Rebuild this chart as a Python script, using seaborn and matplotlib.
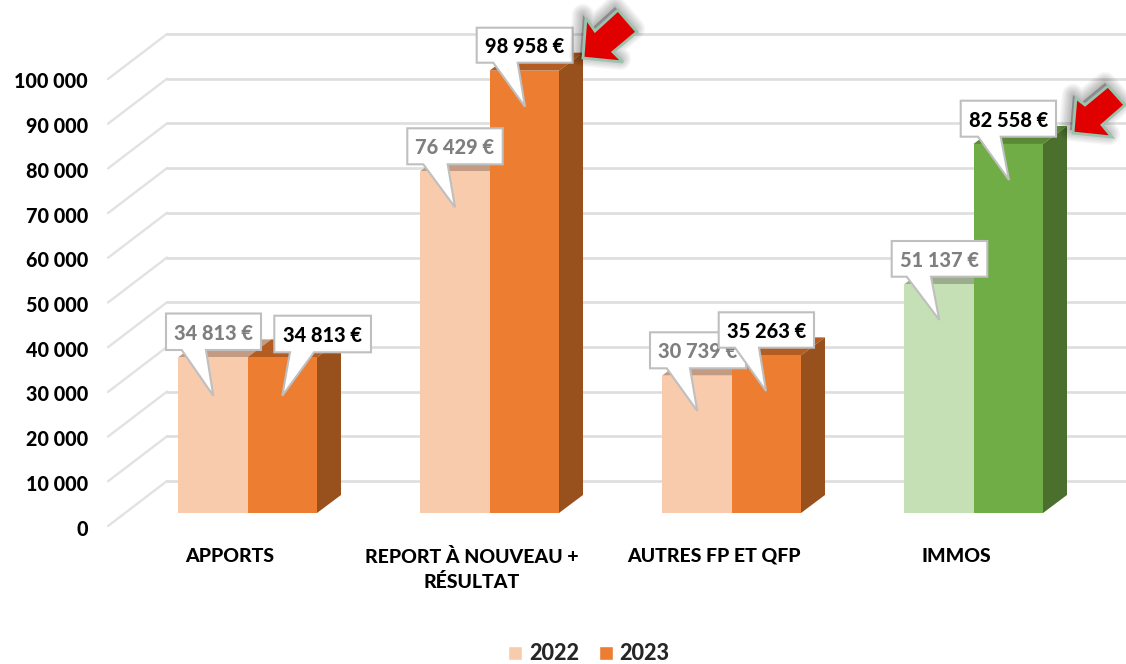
"""Two-year bar comparison with a hand-built 3D look and callout labels."""
import matplotlib

matplotlib.use("Agg")
import matplotlib.pyplot as plt
import pandas as pd
import seaborn as sns
from matplotlib.patches import Polygon
from matplotlib.transforms import Affine2D

categories = ["APPORTS", "REPORT À NOUVEAU +\nRÉSULTAT", "AUTRES FP ET QFP", "IMMOS"]
years = ["2022", "2023"]
values_2022 = [34813, 76429, 30739, 51137]
values_2023 = [34813, 98958, 35263, 82558]
y_ticks = [0, 10000, 20000, 30000, 40000, 50000, 60000, 70000, 80000, 90000, 100000]

W, H = 1126, 664
X0, X_STEP = 247.5, 242.0      # pixel centre of first group, spacing
Y0, Y_STEP = 513.0, 44.7       # pixel of value 0, pixels per 10 000
VAL_PER_PX = 10000 / Y_STEP
DEPTH_X, DEPTH_Y = 24, 18      # bar depth in pixels

FRONT = {"2022": ["#F8CBAD"] * 3 + ["#C5E0B4"], "2023": ["#ED7D31"] * 3 + ["#70AD47"]}
TOP = {"2022": ["#C39B83"] * 3 + ["#9CAD8D"], "2023": ["#B35D22"] * 3 + ["#5A8A36"]}
SIDE = {"2022": ["#C39B83"] * 3 + ["#9CAD8D"], "2023": ["#98501D"] * 3 + ["#4B6F2D"]}

# callout geometry in pixels: box (left, right, top, bottom), tail (base1, base2, tip x, tip y)
callouts = [
    ("34 813 €", "#7F7F7F", (166, 261, 313.5, 350), (181.7, 206, 213.3, 395.7)),
    ("76 429 €", "#7F7F7F", (407.3, 502.7, 128.3, 164.3), (423.3, 447.7, 455, 207.3)),
    ("30 739 €", "#7F7F7F", (650, 746, 332.3, 368.3), (666.7, 690, 697.3, 411)),
    ("51 137 €", "#7F7F7F", (891.7, 987.3, 241, 276.7), (906.7, 931, 939.3, 320)),
    ("34 813 €", "black", (274.3, 371, 315.7, 352.3), (290, 314, 282.3, 395.7)),
    ("98 958 €", "black", (476.7, 572.7, 27.7, 62.7), (493.3, 517.7, 525, 106.7)),
    ("35 263 €", "black", (718.7, 814, 312.3, 347.7), (735, 759, 766, 391)),
    ("82 558 €", "black", (960.7, 1056, 100.7, 136.7), (978, 1000.7, 1009, 180)),
]
arrows = [
    [(583, 58), (586, 18), (595, 31), (618, 10), (637, 32), (613, 52), (623, 62)],
    [(1073, 133), (1076, 98), (1085, 105), (1108, 86), (1125, 105), (1102, 125), (1112, 137)],
]

sns.set_theme(style="white")
plt.rcParams["font.family"] = ["Lato", "DejaVu Sans"]
plt.rcParams["font.weight"] = 900

df = pd.DataFrame({
    "category": categories * 2,
    "year": [years[0]] * 4 + [years[1]] * 4,
    "value": values_2022 + values_2023,
})

fig = plt.figure(figsize=(W / 100, H / 100), dpi=100)
ax = fig.add_axes([0, 0, 1, 1])
sns.barplot(data=df, x="category", y="value", hue="year", ax=ax, width=139 / X_STEP, gap=0,
            palette=[FRONT["2022"][0], FRONT["2023"][0]], saturation=1, errorbar=None)
ax.set_xlim(-X0 / X_STEP, (W - X0) / X_STEP)
ax.set_ylim(-(H - Y0) * VAL_PER_PX, Y0 * VAL_PER_PX)
ax.axis("off")

pixels = Affine2D().scale(1, -1).translate(0, H)  # top-left pixel coordinates


def px_x(x):
    return (x - X0) / X_STEP


# walls: diagonal on the floor side, then the back wall
for v in y_ticks:
    y_front = v - 13 * VAL_PER_PX
    y_back = v + 32 * VAL_PER_PX
    ax.plot([px_x(108), px_x(167)], [y_front, y_back], color="#E2E2E2", lw=1.7, zorder=0.5,
            solid_capstyle="round")
    ax.plot([px_x(167), px_x(W)], [y_back, y_back], color="#DEDEDE", lw=1.9, zorder=0.5)
    ax.text(88, 529 - v / VAL_PER_PX, f"{v:,}".replace(",", " "), transform=pixels, ha="right",
            va="center", fontsize=14.2, color="black")

# depth faces come from the bars that seaborn drew
dx, dy = DEPTH_X / X_STEP, DEPTH_Y * VAL_PER_PX
for year, container in zip(years, ax.containers):
    for i, bar in enumerate(container):
        x0, x1, h = bar.get_x(), bar.get_x() + bar.get_width(), bar.get_height()
        ax.add_patch(Polygon([(x0, h), (x0 + dx, h + dy), (x1 + dx, h + dy), (x1, h)],
                             fc=TOP[year][i], ec="none", zorder=1.1))
        ax.add_patch(Polygon([(x1, 0), (x1 + dx, dy), (x1 + dx, h + dy), (x1, h)],
                             fc=SIDE[year][i], ec="none", zorder=1.1))
        bar.set_facecolor(FRONT[year][i])
        bar.set_edgecolor("none")
        bar.set_zorder(1.5)

for i, label in enumerate(categories):
    ax.text(X0 + i * X_STEP - 17.5, 548, label, transform=pixels, ha="center", va="top",
            fontsize=14, linespacing=1.5, color="black")

# speech-bubble labels
for z, (label, color, box, tail) in enumerate(callouts):
    left, right, top, bottom = box
    b1, b2, tx, ty = tail
    pts = [(left, top), (right, top), (right, bottom), (b2, bottom), (tx, ty), (b1, bottom), (left, bottom)]
    ax.add_patch(Polygon(pts, closed=True, transform=pixels, fc="white", ec="#BFBFBF", lw=1.5,
                         joinstyle="miter", zorder=3 + z * 0.01))
    ax.text((left + right) / 2, (top + bottom) / 2 + 1.5, label, transform=pixels, ha="center",
            va="center", fontsize=14.4, color=color, zorder=3.005 + z * 0.01)

# red arrows with a soft shadow to the upper left
for pts in arrows:
    shifted = [(x - 3, y - 3) for x, y in pts]
    for lw in (16, 14, 12, 10, 8, 6, 4, 2):
        ax.add_patch(Polygon(shifted, closed=True, transform=pixels, fc=(0, 0, 0, 0.035),
                             ec=(0, 0, 0, 0.035), lw=lw, joinstyle="round", zorder=4))
    ax.add_patch(Polygon(pts, closed=True, transform=pixels, fc="#E00000", ec="#9CC3AE", lw=2,
                         joinstyle="miter", zorder=4.5))

handles, labels = ax.get_legend_handles_labels()
ax.legend(handles, labels, ncol=2, frameon=False, loc="center", bbox_to_anchor=(589 / W, 1 - 654 / H),
          fontsize=15.6, handlelength=0.65, handleheight=0.65, handletextpad=0.32, columnspacing=0.9,
          borderpad=0)

fig.savefig("out.png", dpi=100)
plt.close(fig)
